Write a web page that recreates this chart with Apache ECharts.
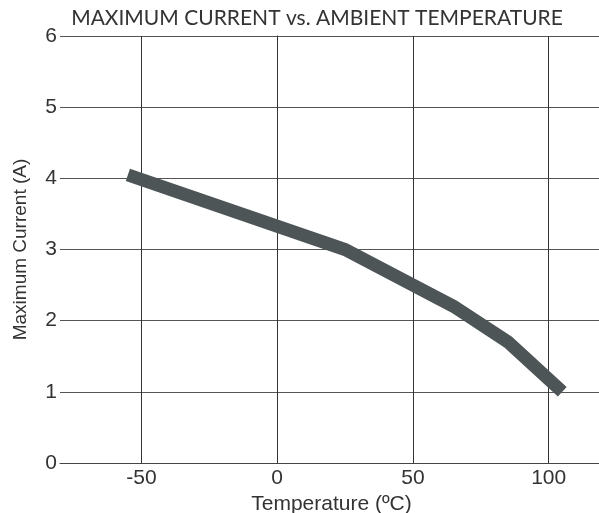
<!DOCTYPE html>
<html><head><meta charset="utf-8">
<script src="https://cdn.jsdelivr.net/npm/echarts@6/dist/echarts.min.js"></script>
<style>html,body{margin:0;padding:0;background:#fff}#c{width:599px;height:513px}</style>
</head><body><div id="c"></div>
<script>
var temps = [-55, 25, 65, 85, 105];
var currents = [4.05, 3.0, 2.2, 1.7, 1.0];
var xTicks = [-50, 0, 50, 100];
var yTicks = [0, 1, 2, 3, 4, 5, 6];
var chart = echarts.init(document.getElementById('c'));
chart.setOption({
  animation: false,
  backgroundColor: '#fff',
  title: {
    text: 'MAXIMUM CURRENT vs. AMBIENT TEMPERATURE',
    left: 312, top: 3, textAlign: 'center',
    textStyle: {fontFamily: 'Lato', fontWeight: 'normal', fontSize: 21, color: '#333'}
  },
  grid: {left: 60, top: 36, right: -4, bottom: 50, containLabel: false, outerBoundsMode: 'none'},
  xAxis: {
    type: 'value', min: -80, max: 120, interval: 10,
    name: 'Temperature (ºC)', nameLocation: 'middle', nameGap: 28,
    nameTextStyle: {fontFamily: 'Liberation Sans', fontSize: 21, color: '#333'},
    axisLine: {lineStyle: {color: '#444', width: 1}},
    axisTick: {show: false},
    axisLabel: {fontFamily: 'Liberation Sans', fontSize: 21, color: '#333', margin: 5,
      formatter: function(v){ return xTicks.indexOf(v) >= 0 ? String(v) : ''; }},
    splitLine: {show: false}
  },
  yAxis: {
    type: 'value', min: 0, max: 6, interval: 1,
    name: 'Maximum Current (A)', nameLocation: 'middle', nameGap: 30,
    nameTextStyle: {fontFamily: 'Liberation Sans', fontSize: 19, color: '#333'},
    axisLine: {show: true, lineStyle: {color: '#444', width: 1}},
    axisTick: {show: false},
    axisLabel: {fontFamily: 'Liberation Sans', fontSize: 21, color: '#333', margin: 3,
      formatter: function(v){ return yTicks.indexOf(v) >= 0 ? String(v) : ''; }},
    splitLine: {show: true, lineStyle: {color: '#555', width: 1}}
  },
  series: [{
    type: 'line',
    data: temps.map(function(t, i){ return [t, currents[i]]; }),
    showSymbol: false,
    lineStyle: {color: '#4d5557', width: 13, cap: 'butt', join: 'miter'},
    markLine: {
      silent: true, symbol: 'none', label: {show: false}, z: 1,
      lineStyle: {color: '#333', width: 1, type: 'solid'},
      data: xTicks.map(function(t){ return {xAxis: t}; })
    }
  }]
});
</script></body></html>
